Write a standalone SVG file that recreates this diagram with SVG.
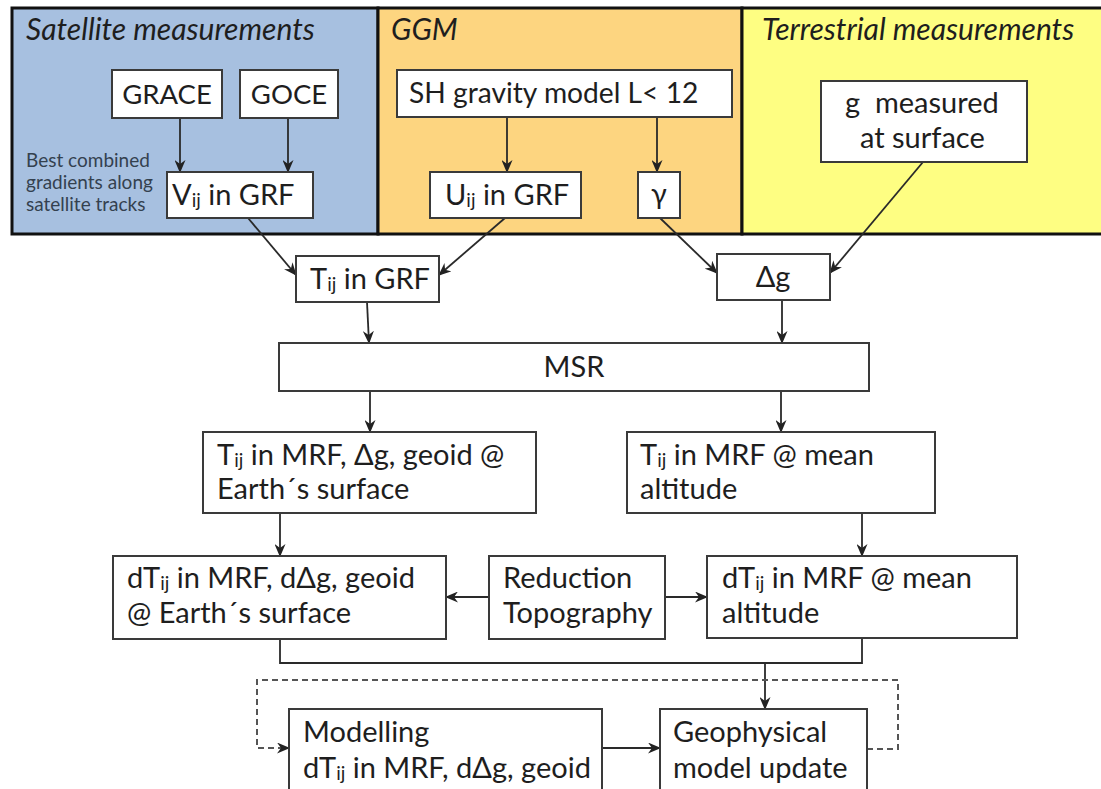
<svg xmlns="http://www.w3.org/2000/svg" width="1101" height="789" viewBox="0 0 1101 789">
<defs>
<style>
.t{font-family:Lato,"Noto Sans","Liberation Sans",sans-serif;fill:#1e1e1e;font-size:29px}
.cap{font-size:27.5px}
.sh{font-size:28.2px}
.h{font-family:Lato,"Noto Sans","Liberation Sans",sans-serif;fill:#1e1e1e;font-size:30px;font-style:italic}
.s{font-family:Lato,"Noto Sans","Liberation Sans",sans-serif;fill:#34414f;font-size:19px}
.box{fill:#fff;stroke:#3a3a3a;stroke-width:2}
.pan{stroke:#111;stroke-width:3}
.c{fill:none;stroke:#2a2a2a;stroke-width:1.8}
.d{fill:none;stroke:#555;stroke-width:2;stroke-dasharray:6 4}
.sub{font-size:19px}
</style>
<marker id="ah" viewBox="0 0 13 11" refX="12" refY="5.5" markerWidth="13" markerHeight="11" orient="auto" markerUnits="userSpaceOnUse"><path d="M0,0 L13,5.5 L0,11 L4,5.5 z" fill="#222"/></marker>
</defs>
<rect width="1101" height="789" fill="#fff"/>
<g id="panels">
<rect x="12" y="8" width="366" height="226" fill="#a7c0e0" class="pan"/>
<rect x="378" y="8" width="364" height="226" fill="#fdd580" class="pan"/>
<rect x="742" y="8" width="362" height="226" fill="#fefe82" class="pan"/>
<text class="h" x="26" y="40">Satellite measurements</text>
<text class="h" x="391" y="40">GGM</text>
<text class="h" x="762" y="40">Terrestrial measurements</text>
<text class="s" x="26" y="167">Best combined</text>
<text class="s" x="26" y="189">gradients along</text>
<text class="s" x="26" y="211">satellite tracks</text>
</g>
<g id="connectors">
<line class="c" x1="180" y1="118" x2="180" y2="172" marker-end="url(#ah)"/>
<line class="c" x1="288" y1="118" x2="288" y2="172" marker-end="url(#ah)"/>
<line class="c" x1="507" y1="117" x2="507" y2="172" marker-end="url(#ah)"/>
<line class="c" x1="657" y1="117" x2="657" y2="172" marker-end="url(#ah)"/>
<line class="c" x1="248" y1="218" x2="296" y2="275" marker-end="url(#ah)"/>
<line class="c" x1="505" y1="218" x2="439" y2="275" marker-end="url(#ah)"/>
<line class="c" x1="660" y1="218" x2="717" y2="273" marker-end="url(#ah)"/>
<line class="c" x1="923" y1="162" x2="830" y2="273" marker-end="url(#ah)"/>
<line class="c" x1="367" y1="302" x2="369" y2="343" marker-end="url(#ah)"/>
<line class="c" x1="782" y1="300" x2="782" y2="343" marker-end="url(#ah)"/>
<line class="c" x1="370" y1="391" x2="370" y2="432" marker-end="url(#ah)"/>
<line class="c" x1="781" y1="391" x2="781" y2="432" marker-end="url(#ah)"/>
<line class="c" x1="280" y1="513" x2="280" y2="556" marker-end="url(#ah)"/>
<line class="c" x1="862" y1="513" x2="862" y2="556" marker-end="url(#ah)"/>
<line class="c" x1="489" y1="597" x2="446" y2="597" marker-end="url(#ah)"/>
<line class="c" x1="665" y1="597" x2="707" y2="597" marker-end="url(#ah)"/>
<path class="c" d="M280,639 V663 H862 V638"/>
<line class="c" x1="765" y1="663" x2="765" y2="709" marker-end="url(#ah)"/>
<line class="c" x1="602" y1="748" x2="660" y2="748" marker-end="url(#ah)"/>
<path class="d" d="M867,749 H898 V680 H257 V748 H289" marker-end="url(#ah)"/>
</g>
<g id="grace"><rect class="box" x="112" y="70" width="110" height="48"/><text class="t cap" x="167" y="104" text-anchor="middle">GRACE</text></g>
<g id="goce"><rect class="box" x="240" y="70" width="98" height="48"/><text class="t cap" x="289" y="104" text-anchor="middle">GOCE</text></g>
<g id="vij"><rect class="box" x="167" y="172" width="146" height="46"/><text class="t" x="172" y="205">V<tspan class="sub" dy="2">ij</tspan><tspan dy="-2"> in GRF</tspan></text></g>
<g id="sh"><rect class="box" x="397" y="70" width="335" height="47"/><text class="t sh" x="409" y="103">SH gravity model L&lt; 12</text></g>
<g id="uij"><rect class="box" x="430" y="172" width="151" height="46"/><text class="t" x="445" y="205">U<tspan class="sub" dy="2">ij</tspan><tspan dy="-2"> in GRF</tspan></text></g>
<g id="gamma"><rect class="box" x="638" y="172" width="42" height="46"/><text class="t" x="659" y="204" text-anchor="middle">γ</text></g>
<g id="gmeas"><rect class="box" x="821" y="81" width="206" height="81"/><text class="t" x="845" y="113" xml:space="preserve">g  measured</text><text class="t" x="860" y="148">at surface</text></g>
<g id="tijgrf"><rect class="box" x="296" y="256" width="143" height="46"/><text class="t" x="310" y="289">T<tspan class="sub" dy="2">ij</tspan><tspan dy="-2"> in GRF</tspan></text></g>
<g id="dg"><rect class="box" x="717" y="254" width="113" height="46"/><text class="t" x="773" y="287" text-anchor="middle">Δg</text></g>
<g id="msr"><rect class="box" x="279" y="343" width="590" height="48"/><text class="t" x="574" y="377" text-anchor="middle">MSR</text></g>
<g id="tijmrf1"><rect class="box" x="203" y="432" width="333" height="81"/><text class="t" x="217" y="465">T<tspan class="sub" dy="2">ij</tspan><tspan dy="-2"> in MRF, Δg, geoid @</tspan></text><text class="t" x="217" y="499">Earth´s surface</text></g>
<g id="tijmrf2"><rect class="box" x="627" y="432" width="308" height="81"/><text class="t" x="640" y="465">T<tspan class="sub" dy="2">ij</tspan><tspan dy="-2"> in MRF @ mean</tspan></text><text class="t" x="640" y="499">altitude</text></g>
<g id="dtij1"><rect class="box" x="113" y="556" width="333" height="83"/><text class="t" x="127" y="588">dT<tspan class="sub" dy="2">ij</tspan><tspan dy="-2"> in MRF, dΔg, geoid</tspan></text><text class="t" x="127" y="623">@ Earth´s surface</text></g>
<g id="reduction"><rect class="box" x="489" y="556" width="176" height="83"/><text class="t" x="503" y="588">Reduction</text><text class="t" x="503" y="623">Topography</text></g>
<g id="dtij2"><rect class="box" x="707" y="556" width="310" height="82"/><text class="t" x="722" y="588">dT<tspan class="sub" dy="2">ij</tspan><tspan dy="-2"> in MRF @ mean</tspan></text><text class="t" x="722" y="623">altitude</text></g>
<g id="modelling"><rect class="box" x="289" y="709" width="313" height="95"/><text class="t" x="303" y="742">Modelling</text><text class="t" x="303" y="778">dT<tspan class="sub" dy="2">ij</tspan><tspan dy="-2"> in MRF, dΔg, geoid</tspan></text></g>
<g id="geophys"><rect class="box" x="660" y="709" width="207" height="95"/><text class="t" x="673" y="742">Geophysical</text><text class="t" x="673" y="778">model update</text></g>
</svg>
